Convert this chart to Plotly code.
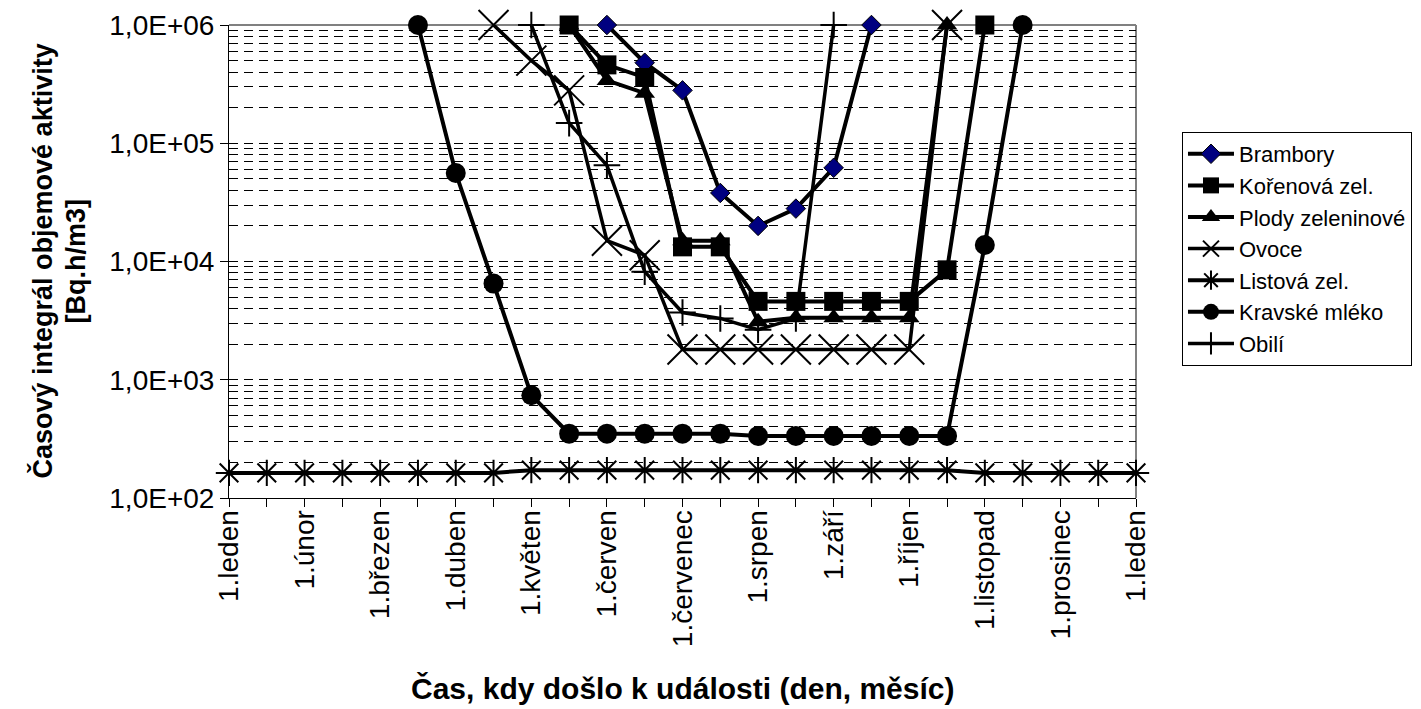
import plotly.graph_objects as go

N = None

# Half-month steps through the year (25 positions, labels on the 1st of each month)
tick_labels = ["1.leden", "", "1.únor", "", "1.březen", "", "1.duben", "",
               "1.květen", "", "1.červen", "", "1.červenec", "", "1.srpen", "",
               "1.září", "", "1.říjen", "", "1.listopad", "", "1.prosinec", "",
               "1.leden"]
x_pos = list(range(len(tick_labels)))

brambory = [N] * 10 + [1e6, 4.8e5, 2.8e5, 3.8e4, 2.0e4, 2.8e4, 6.2e4, 1e6] + [N] * 7
korenova = [N] * 9 + [1e6, 4.6e5, 3.6e5, 1.33e4, 1.33e4,
                      4.6e3, 4.6e3, 4.6e3, 4.6e3, 4.6e3, 8.5e3, 1e6] + [N] * 4
plody = [N] * 9 + [1e6, 3.4e5, 2.65e5, 1.5e4, 1.5e4,
                   3.1e3, 3.35e3, 3.35e3, 3.35e3, 3.35e3, 1e6] + [N] * 5
ovoce = [N] * 7 + [1e6, 5.0e5, 2.8e5, 1.5e4, 1.13e4,
                   1.8e3, 1.8e3, 1.8e3, 1.8e3, 1.8e3, 1.8e3, 1.8e3, 1e6] + [N] * 5
listova = [163] * 8 + [172] * 12 + [163] * 5
kravske = [N] * 5 + [1e6, 5.6e4, 6.5e3, 7.4e2] + [350] * 5 + [335] * 6 + [1.38e4, 1e6] + [N] * 3
obili = [N] * 8 + [1e6, 1.48e5, 6.5e4, 8.2e3, 3.7e3, 3.3e3, 2.65e3, 3.3e3, 1e6] + [N] * 8

y_ticks = [1e2, 1e3, 1e4, 1e5, 1e6]
y_tick_text = ["1,0E+02", "1,0E+03", "1,0E+04", "1,0E+05", "1,0E+06"]
y_minor = [m * 10 ** e for e in range(2, 6) for m in range(2, 10)]

FONT = "Liberation Sans, Arial, sans-serif"
BLK = "black"

series = [
    ("Brambory", brambory, dict(symbol="diamond", size=15, color="#000080",
                                line=dict(color=BLK, width=1)), 4),
    ("Kořenová zel.", korenova, dict(symbol="square", size=19, color=BLK), 4),
    ("Plody zeleninové", plody, dict(symbol="triangle-up", size=18, color=BLK), 4),
    ("Ovoce", ovoce, dict(symbol="x-thin-open", size=30, color=BLK,
                          line=dict(color=BLK, width=2)), 3.5),
    ("Listová zel.", listova, dict(symbol="asterisk-open", size=22, color=BLK,
                                   line=dict(color=BLK, width=2)), 4),
    ("Kravské mléko", kravske, dict(symbol="circle", size=20, color=BLK), 4),
    ("Obilí", obili, dict(symbol="cross-thin-open", size=19, color=BLK,
                          line=dict(color=BLK, width=2)), 3.5),
]

fig = go.Figure()
for name, vals, marker, lw in series:
    fig.add_trace(go.Scatter(
        x=x_pos, y=vals, name=name, mode="lines+markers",
        line=dict(color=BLK, width=lw), marker=marker,
        connectgaps=False, cliponaxis=False,
    ))

fig.update_layout(
    template="none",
    width=1421, height=709,
    margin=dict(l=229, r=285, t=25, b=211, autoexpand=False),
    paper_bgcolor="white", plot_bgcolor="white",
    font=dict(family=FONT, color=BLK),
    showlegend=True,
    legend=dict(
        x=1.0507, y=0.7738, xanchor="left", yanchor="top",
        bgcolor="white", bordercolor=BLK, borderwidth=1,
        font=dict(family=FONT, size=22, color=BLK),
        itemwidth=46, tracegroupgap=0,
    ),
)

fig.update_xaxes(
    range=[0, 24], tickmode="array", tickvals=x_pos, ticktext=tick_labels,
    tickangle=-90, ticks="outside", ticklen=8, tickcolor=BLK, tickwidth=1,
    tickfont=dict(family=FONT, size=28, color=BLK), ticklabelstandoff=-8,
    showline=True, linecolor=BLK, linewidth=1, showgrid=False,
    zeroline=False, automargin=False,
)

fig.update_yaxes(
    type="log", range=[2, 6], tickmode="array", tickvals=y_ticks,
    ticktext=y_tick_text, ticks="outside", ticklen=8, tickcolor=BLK, tickwidth=1,
    tickfont=dict(family=FONT, size=28, color=BLK),
    showline=True, linecolor=BLK, linewidth=1,
    showgrid=True, gridcolor=BLK, gridwidth=1, griddash="9px,6px",
    minor=dict(tickmode="array", tickvals=y_minor, showgrid=True, gridcolor=BLK,
               gridwidth=1, griddash="9px,6px", ticks=""),
    zeroline=False, automargin=False,
)

# grey frame on the top and right sides of the plot area
for x0, y0, x1, y1 in [(0, 1, 1, 1), (1, 0, 1, 1)]:
    fig.add_shape(type="line", xref="paper", yref="paper",
                  x0=x0, y0=y0, x1=x1, y1=y1,
                  line=dict(color="#808080", width=2), layer="between")

# axis titles
fig.add_annotation(text="<b>Čas, kdy došlo k události (den, měsíc)</b>",
                   xref="paper", yref="paper", x=0.5, y=-0.402,
                   xanchor="center", yanchor="middle", showarrow=False,
                   font=dict(family=FONT, size=30, color=BLK))
fig.add_annotation(text="<b>Časový integrál objemové aktivity</b>",
                   xref="paper", yref="paper", x=(42 - 229) / 907, y=0.5,
                   xanchor="center", yanchor="middle", textangle=-90, showarrow=False,
                   font=dict(family=FONT, size=27, color=BLK))
fig.add_annotation(text="<b>[Bq.h/m3]</b>",
                   xref="paper", yref="paper", x=(75 - 229) / 907, y=0.5,
                   xanchor="center", yanchor="middle", textangle=-90, showarrow=False,
                   font=dict(family=FONT, size=27, color=BLK))

fig.write_html("out.html")
